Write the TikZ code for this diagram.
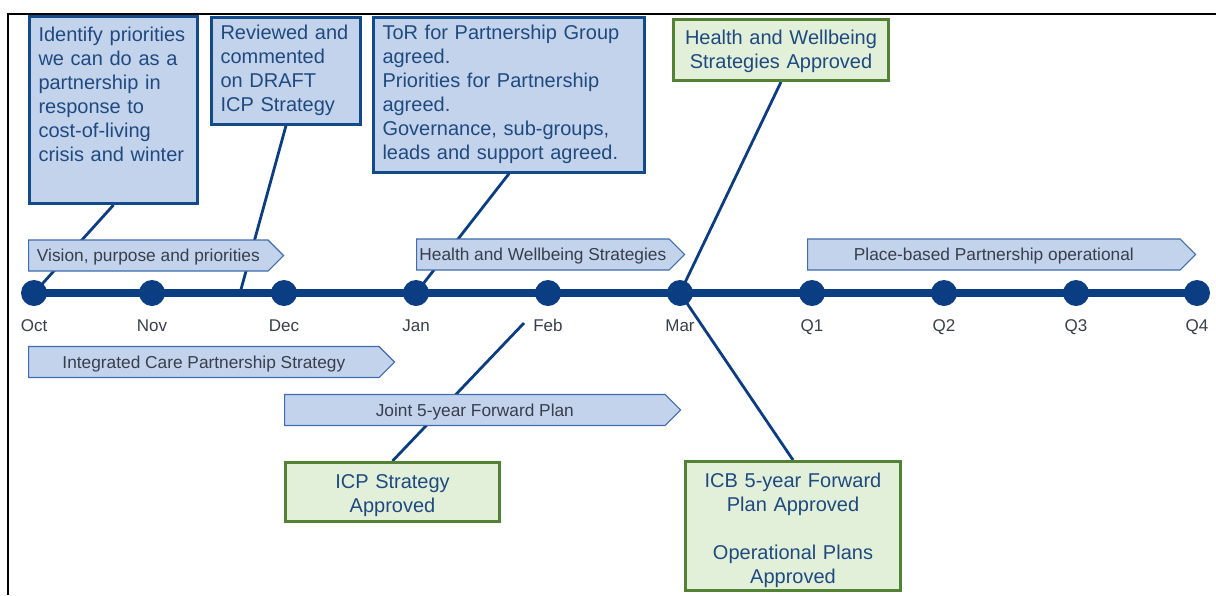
\documentclass[tikz,border=0pt]{standalone}
\usepackage{fontspec}
\setmainfont{Liberation Sans}
\usetikzlibrary{positioning,shapes.symbols,backgrounds}
\definecolor{navy}{HTML}{0B3D82}
\definecolor{boxline}{HTML}{124A8A}
\definecolor{boxfill}{HTML}{C4D3EC}
\definecolor{boxtext}{HTML}{1F4A80}
\definecolor{okfill}{HTML}{E2F0D9}
\definecolor{okline}{HTML}{548235}
\definecolor{phaseline}{HTML}{3F6CB0}
\definecolor{greytext}{HTML}{373E4C}

\begin{document}
\begin{tikzpicture}[x=1pt, y=-1pt,
  box/.style={draw=boxline, line width=3pt, fill=boxfill, text=boxtext, align=left, anchor=north west, inner xsep=9pt, inner ysep=8pt, font=\fontsize{20}{24}\selectfont},
  ok/.style={draw=okline, line width=3pt, fill=okfill, text=boxtext, align=center, anchor=north west, text width=197pt, inner xsep=9pt, font=\fontsize{20}{24}\selectfont},
  phase/.style={signal, signal to=east, signal pointer angle=90, draw=phaseline, line width=1.2pt, fill=boxfill, text=greytext, minimum height=31pt, inner sep=0pt, text height=12pt, text depth=0pt, anchor=west, font=\fontsize{17.3}{20}\selectfont},
  dot/.style={circle, fill=navy, minimum size=26pt, inner sep=0pt},
  month/.style={text=greytext, anchor=base, font=\fontsize{17}{20}\selectfont},
  link/.style={draw=navy, line width=2.8pt}]
\useasboundingbox (0,0) rectangle (1216,595);
\draw[line width=2.5pt] (8,595) -- (8,14) -- (1216,14);
\node[box, text width=150pt, text height=17pt, text depth=154pt] (idea) at (28,15) {Identify priorities\\we can do as a\\partnership in\\response to\\cost-of-living\\crisis and winter};
\node[box, text width=131pt] (draft) at (210,16) {Reviewed and\\commented\\on DRAFT\\ICP Strategy};
\node[box, text width=253pt] (tor) at (372,16) {ToR for Partnership Group\\agreed.\\Priorities for Partnership\\agreed.\\Governance, sub-groups,\\leads and support agreed.};
\node[ok, minimum height=61pt, text height=16.5pt] (hwbok) at (672,18) {Health and Wellbeing\\Strategies Approved};
\node[ok, text width=196pt, minimum height=59pt, text height=20.5pt] (icpok) at (284,461) {ICP Strategy\\Approved};
\node[ok, minimum height=127pt, text height=22.5pt] (icbok) at (684,460) {ICB 5-year Forward\\Plan Approved\\[24pt]Operational Plans\\Approved};
\node[phase, minimum width=255pt] (vision) at (28,255.5) {Vision, purpose and priorities};
\node[phase, minimum width=268pt] (hws) at (416,254.5) {Health and Wellbeing Strategies};
\node[phase, minimum width=388pt] (place) at (807,254.5) {Place-based Partnership operational};
\node[phase, minimum width=366pt] (icps) at (28,362) {Integrated Care Partnership Strategy};
\node[phase, minimum width=396pt] (jfp) at (284,410) {Joint 5-year Forward Plan};
\foreach \n/\x/\t in {oct/34/Oct, nov/152/Nov, dec/284/Dec, jan/416/Jan, feb/548/Feb, mar/680/Mar, qa/812/Q1, qb/944/Q2, qc/1076/Q3, qd/1197/Q4} {
  \node[dot] (\n) at (\x,293) {};
  \node[month] (\n-t) at (\x,331) {\t};
}
\coordinate (rev) at (240,293);
\coordinate (icpend) at (524,323);
\begin{scope}[on background layer]
\draw[navy, line width=8pt] (oct.center) -- (qd.center);
\foreach \a/\b in {idea.south/oct.center, draft.south/rev, tor.south/jan.center, hwbok.south/mar.center, icbok.north/mar.center, icpok.north/icpend} \draw[link] (\a) -- (\b);
\end{scope}
\end{tikzpicture}
\end{document}
